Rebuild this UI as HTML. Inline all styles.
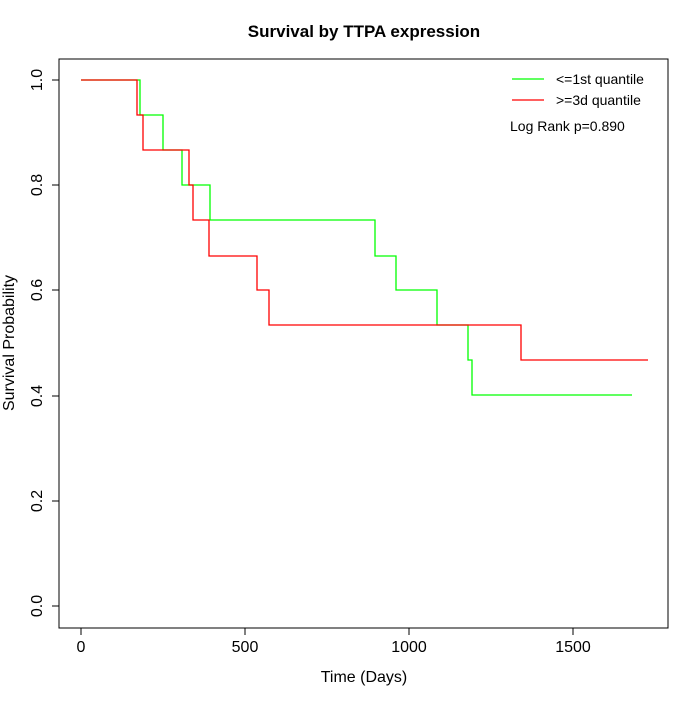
<!DOCTYPE html>
<html><head><style>body{margin:0;background:#fff}</style></head><body>
<svg width="700" height="700" xmlns="http://www.w3.org/2000/svg" font-family="Liberation Sans, sans-serif">
<rect width="700" height="700" fill="#fff"/>
<rect x="59" y="59" width="609" height="569" fill="none" stroke="#000" stroke-width="1"/>
<text x="364" y="37" text-anchor="middle" font-size="17" font-weight="bold">Survival by TTPA expression</text>
<g stroke="#000" fill="none">
<line x1="81" y1="628" x2="573" y2="628"/>
<line x1="81" y1="628" x2="81" y2="635"/><line x1="245" y1="628" x2="245" y2="635"/><line x1="409" y1="628" x2="409" y2="635"/><line x1="573" y1="628" x2="573" y2="635"/>
<line x1="59" y1="80" x2="59" y2="606"/>
<line x1="52" y1="80" x2="59" y2="80"/><line x1="52" y1="185" x2="59" y2="185"/><line x1="52" y1="290" x2="59" y2="290"/><line x1="52" y1="396" x2="59" y2="396"/><line x1="52" y1="501" x2="59" y2="501"/><line x1="52" y1="606" x2="59" y2="606"/>
</g>
<g font-size="16" text-anchor="middle">
<text x="81" y="652">0</text><text x="245" y="652">500</text><text x="409" y="652">1000</text><text x="573" y="652">1500</text>
<text x="364" y="682">Time (Days)</text>
</g>
<g font-size="16" text-anchor="middle">
<text transform="translate(42,80) rotate(-90)">1.0</text>
<text transform="translate(42,185) rotate(-90)">0.8</text>
<text transform="translate(42,290) rotate(-90)">0.6</text>
<text transform="translate(42,396) rotate(-90)">0.4</text>
<text transform="translate(42,501) rotate(-90)">0.2</text>
<text transform="translate(42,606) rotate(-90)">0.0</text>
<text transform="translate(14,343) rotate(-90)">Survival Probability</text>
</g>
<polyline fill="none" stroke="#00ff00" stroke-width="1.3" points="81,80 140,80 140,115 163,115 163,150 182,150 182,185 210,185 210,220 375,220 375,256 396,256 396,290 437,290 437,325 468,325 468,360 472,360 472,395 632,395"/>
<polyline fill="none" stroke="#ff0000" stroke-width="1.3" points="81,80 137,80 137,115 143,115 143,150 189,150 189,185 193,185 193,220 209,220 209,256 257,256 257,290 269,290 269,325 521,325 521,360 648,360"/>
<line x1="512" y1="79" x2="544" y2="79" stroke="#00ff00" stroke-width="1.3"/>
<line x1="512" y1="100" x2="544" y2="100" stroke="#ff0000" stroke-width="1.3"/>
<g font-size="14">
<text x="556" y="84">&lt;=1st quantile</text>
<text x="556" y="105">&gt;=3d quantile</text>
<text x="510" y="131">Log Rank p=0.890</text>
</g>
</svg>
</body></html>
